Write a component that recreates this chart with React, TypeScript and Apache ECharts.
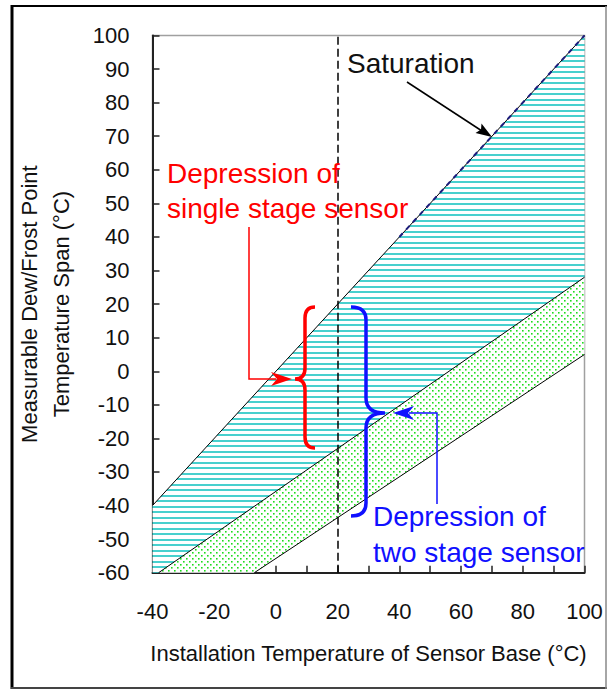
import React, { useEffect, useRef } from "react";
import * as echarts from "echarts";

// ---- data (chart units: °C) ----
const saturationLine: number[][] = [[-40, -40], [100, 100]];
const saturationDashed: number[][] = [[40, 40], [100, 100]];
const singleStageLimit: number[][] = [[-38, -60], [100, 28]];
const twoStageLimit: number[][] = [[-7, -60], [100, 5]];
const sensorBaseMarker = 20;
const xMin = -40;
const xMax = 100;
const yMin = -60;
const yMax = 100;
const tickStep = 10;
const xLabelStep = 20;

const FONT = "Arial, 'Liberation Sans', sans-serif";

let shapesRegistered = false;
function registerShapes() {
  if (shapesRegistered) return;
  shapesRegistered = true;
  echarts.graphic.registerShape(
    "braceRed",
    echarts.graphic.extendPath(
      "M315,307 Q305,307 305,318 L305,368 Q305,379 295,379 Q305,379 305,390 L305,437 Q305,448 315,448",
      {}
    )
  );
  echarts.graphic.registerShape(
    "braceBlue",
    echarts.graphic.extendPath(
      "M351,307 Q366,307 366,320 L366,398 Q366,413 385,413 Q366,413 366,428 L366,503 Q366,516 351,516",
      {}
    )
  );
}

function makeHatch(): HTMLCanvasElement {
  const c = document.createElement("canvas");
  c.width = 4;
  c.height = 11;
  const ctx = c.getContext("2d")!;
  ctx.fillStyle = "#ffffff";
  ctx.fillRect(0, 0, 4, 11);
  ctx.fillStyle = "#48d0ce";
  ctx.fillRect(0, 0, 4, 2);
  ctx.fillRect(0, 5, 4, 2);
  return c;
}

function makeDots(): HTMLCanvasElement {
  const c = document.createElement("canvas");
  c.width = 6;
  c.height = 6;
  const ctx = c.getContext("2d")!;
  ctx.fillStyle = "#ffffff";
  ctx.fillRect(0, 0, 6, 6);
  ctx.fillStyle = "#1edc1e";
  ctx.fillRect(0, 0, 1.6, 1.6);
  ctx.fillRect(3, 3, 1.6, 1.6);
  return c;
}

export default function App() {
  const ref = useRef<HTMLDivElement>(null);

  useEffect(() => {
    document.body.style.margin = "0";
    registerShapes();
    const chart = echarts.init(ref.current!, null, { renderer: "svg" });

    const cyanBand = [...saturationLine, ...singleStageLimit.slice().reverse(), [xMin, yMin]];
    const greenBand = [...singleStageLimit, ...twoStageLimit.slice().reverse()];
    const bands = [cyanBand, greenBand];
    const hatch = makeHatch();
    const dots = makeDots();
    const fills: any[] = [
      { image: hatch, repeat: "repeat", imageWidth: 4, imageHeight: 11 },
      { image: dots, repeat: "repeat", imageWidth: 6, imageHeight: 6 },
    ];

    const thin = { color: "#000", width: 1 };
    const annoFont = `28px ${FONT}`;

    chart.setOption({
      animation: false,
      backgroundColor: "#ffffff",
      grid: {
        left: 152.5,
        right: 23.5,
        top: 35.5,
        bottom: 117.3,
        show: true,
        borderColor: "#a0a0a0",
        borderWidth: 1.5,
        backgroundColor: "transparent",
      },
      xAxis: {
        type: "value",
        min: xMin,
        max: xMax,
        interval: tickStep,
        name: "Installation Temperature of Sensor Base (°C)",
        nameLocation: "middle",
        nameGap: 68,
        nameTextStyle: { fontFamily: FONT, fontSize: 22, color: "#111", lineHeight: 26 },
        axisLine: { show: true, onZero: false, lineStyle: { color: "#222", width: 2 } },
        axisTick: { show: true, inside: true, length: 7, lineStyle: { color: "#222", width: 1.5 } },
        axisLabel: {
          fontFamily: FONT,
          fontSize: 22,
          color: "#111",
          margin: 28,
          formatter: (v: number) => (v % xLabelStep === 0 ? String(v) : ""),
        },
        splitLine: { show: false },
      },
      yAxis: {
        type: "value",
        min: yMin,
        max: yMax,
        interval: tickStep,
        name: "Measurable Dew/Frost Point\nTemperature Span (°C)",
        nameLocation: "middle",
        nameGap: 75,
        nameTextStyle: { fontFamily: FONT, fontSize: 22, color: "#111", lineHeight: 32 },
        axisLine: { show: true, onZero: false, lineStyle: { color: "#222", width: 2 } },
        axisTick: { show: true, inside: true, length: 7, lineStyle: { color: "#222", width: 1.5 } },
        axisLabel: { fontFamily: FONT, fontSize: 22, color: "#111", margin: 23 },
        splitLine: { show: false },
      },
      series: [
        {
          type: "custom",
          z: 1,
          silent: true,
          data: [[0, 0], [0, 0]],
          renderItem: (params: any, api: any) => {
            const poly = bands[params.dataIndex];
            return {
              type: "polygon",
              shape: { points: poly.map((p) => api.coord(p)) },
              style: { fill: fills[params.dataIndex], stroke: "none" },
            };
          },
        },
        {
          type: "line",
          z: 3,
          silent: true,
          symbol: "none",
          data: saturationLine,
          lineStyle: thin,
          markLine: {
            silent: true,
            symbol: "none",
            label: { show: false },
            lineStyle: { color: "#000", width: 1.5, type: [8, 4] },
            data: [{ xAxis: sensorBaseMarker }],
          },
        },
        {
          type: "line",
          z: 4,
          silent: true,
          symbol: "none",
          data: saturationDashed,
          lineStyle: { color: "#1c1c7c", width: 2, type: [5, 5] },
        },
        {
          type: "line",
          z: 3,
          silent: true,
          symbol: "none",
          data: singleStageLimit,
          lineStyle: thin,
        },
        {
          type: "line",
          z: 3,
          silent: true,
          symbol: "none",
          data: twoStageLimit,
          lineStyle: thin,
        },
      ],
      graphic: [
        // outer frame
        { type: "line", z: 100, shape: { x1: 11, y1: 6, x2: 607, y2: 6 }, style: { stroke: "#000", lineWidth: 2 } },
        { type: "line", z: 100, shape: { x1: 12, y1: 5, x2: 12, y2: 689 }, style: { stroke: "#000", lineWidth: 3 } },
        { type: "line", z: 100, shape: { x1: 11, y1: 688, x2: 607, y2: 688 }, style: { stroke: "#444", lineWidth: 2 } },
        { type: "line", z: 100, shape: { x1: 606, y1: 6, x2: 606, y2: 689 }, style: { stroke: "#888", lineWidth: 1.5 } },
        // saturation label + arrow
        {
          type: "text",
          z: 100,
          style: { text: "Saturation", x: 347, y: 63, font: annoFont, fill: "#111", textAlign: "left", textVerticalAlign: "middle", align: "left", verticalAlign: "middle" },
        },
        { type: "line", z: 100, shape: { x1: 407, y1: 82, x2: 482, y2: 131 }, style: { stroke: "#000", lineWidth: 1.5 } },
        { type: "polygon", z: 100, shape: { points: [[492, 137], [475.5, 133], [481, 129.5], [481.5, 123.5]] }, style: { fill: "#000" } },
        // single stage annotation (red)
        {
          type: "text",
          z: 100,
          style: { text: "Depression of", x: 167, y: 173, font: annoFont, fill: "#ff0000", textAlign: "left", textVerticalAlign: "middle", align: "left", verticalAlign: "middle" },
        },
        {
          type: "text",
          z: 100,
          style: { text: "single stage sensor", x: 167, y: 208, font: annoFont, fill: "#ff0000", textAlign: "left", textVerticalAlign: "middle", align: "left", verticalAlign: "middle" },
        },
        { type: "polyline", z: 100, shape: { points: [[249, 227], [249, 379], [276, 379]] }, style: { stroke: "#ff0000", lineWidth: 1.5, fill: "none" } },
        { type: "polygon", z: 100, shape: { points: [[292, 379], [271, 372], [277, 379], [271, 386]] }, style: { fill: "#ff0000" } },
        { type: "braceRed", z: 100, style: { stroke: "#ff0000", lineWidth: 3.5, fill: "none" } },
        // two stage annotation (blue)
        {
          type: "text",
          z: 100,
          style: { text: "Depression of", x: 373, y: 516, font: annoFont, fill: "#1010ff", textAlign: "left", textVerticalAlign: "middle", align: "left", verticalAlign: "middle" },
        },
        {
          type: "text",
          z: 100,
          style: { text: "two stage sensor", x: 373, y: 552, font: annoFont, fill: "#1010ff", textAlign: "left", textVerticalAlign: "middle", align: "left", verticalAlign: "middle" },
        },
        { type: "polyline", z: 100, shape: { points: [[437, 504], [437, 413], [409, 413]] }, style: { stroke: "#1010ff", lineWidth: 1.5, fill: "none" } },
        { type: "polygon", z: 100, shape: { points: [[393, 413], [414, 406], [408, 413], [414, 420]] }, style: { fill: "#1010ff" } },
        { type: "braceBlue", z: 100, style: { stroke: "#1010ff", lineWidth: 3.5, fill: "none" } },
      ],
    });

    return () => chart.dispose();
  }, []);

  return <div ref={ref} style={{ width: 608, height: 690 }} />;
}
